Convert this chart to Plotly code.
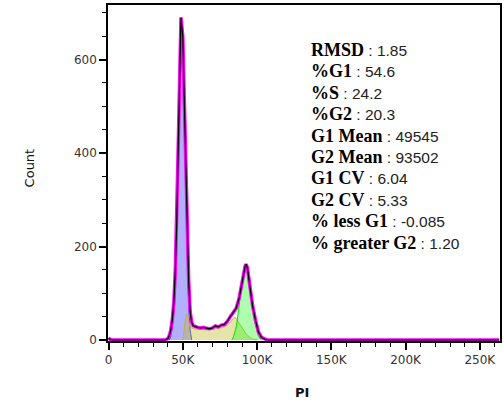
import plotly.graph_objects as go

# Histogram (PI channel, counts)
hist_x = [0, 1000, 2000, 38000, 40000, 41000, 42000, 43000, 44000, 45000, 46000, 47000, 48000,
          48800, 50000, 51000, 52000, 53000, 54000, 55000, 56000, 57000, 58000, 60000, 62000,
          64000, 66000, 68000, 70000, 72000, 74000, 76000, 78000, 80000, 82000, 84000, 86000,
          88000, 90000, 91000, 92000, 92600, 93500, 94500, 95500, 97000, 99000, 101000, 103000,
          105000, 107000, 263000]
hist_y = [4, 2, 0, 0, 3, 10, 22, 45, 80, 150, 255, 420, 570,
          690, 650, 525, 380, 235, 125, 60, 38, 31, 29, 27, 26,
          27, 25, 24, 26, 30, 28, 32, 33, 40, 50, 58, 68,
          90, 125, 147, 158, 162, 155, 132, 108, 74, 42, 17, 6,
          2, 0, 0]

# Model components
g1_x = [41000, 42000, 43000, 44000, 45000, 46000, 47000, 48000, 48800, 50000, 51000, 52000,
        53000, 54000, 55000, 56000]
g1_y = [0, 10, 32, 65, 130, 235, 400, 550, 680, 635, 500, 340, 190, 85, 22, 0]

s_x = [50000, 51000, 52000, 53000, 54000, 55000, 56000, 58000, 60000, 65000, 70000, 75000,
       80000, 83000, 85000, 86000, 88000, 90000, 92000, 94000, 96000, 98000, 100000]
s_y = [0, 20, 48, 56, 42, 30, 26, 24, 23, 22, 23, 26, 32, 42, 48, 46, 36, 26, 16, 9, 4, 1, 0]

g2_x = [83000, 84000, 86000, 88000, 90000, 91000, 92000, 92600, 93500, 94500, 96000, 97000,
        99000, 101000, 103000]
g2_y = [0, 6, 28, 75, 125, 142, 150, 153, 146, 126, 95, 72, 35, 8, 0]

stat_labels = ["RMSD", "%G1", "%S", "%G2", "G1 Mean", "G2 Mean", "G1 CV", "G2 CV",
               "% less G1", "% greater G2"]
stat_values = ["1.85", "54.6", "24.2", "20.3", "49545", "93502", "6.04", "5.33",
               "-0.085", "1.20"]

x_tickvals = [0, 50000, 100000, 150000, 200000, 250000]
x_ticktext = ["0", "50K", "100K", "150K", "200K", "250K"]

fig = go.Figure()
fig.add_trace(go.Scatter(x=g1_x, y=g1_y, mode="lines", fill="tozeroy",
                         fillcolor="rgba(0,0,255,0.31)",
                         line=dict(color="rgb(50,50,230)", width=1, shape="spline", smoothing=0.5)))
fig.add_trace(go.Scatter(x=s_x, y=s_y, mode="lines", fill="tozeroy",
                         fillcolor="rgba(190,190,40,0.40)",
                         line=dict(color="rgb(200,170,70)", width=1, shape="spline", smoothing=0.5)))
fig.add_trace(go.Scatter(x=g2_x, y=g2_y, mode="lines", fill="tozeroy",
                         fillcolor="rgba(0,255,0,0.32)",
                         line=dict(color="rgb(0,215,0)", width=1, shape="spline", smoothing=0.5)))
fig.add_trace(go.Scatter(x=hist_x, y=hist_y, mode="lines",
                         line=dict(color="rgb(255,0,255)", width=3.5)))
fig.add_trace(go.Scatter(x=hist_x, y=hist_y, mode="lines",
                         line=dict(color="black", width=1.2)))

L, R, T, B = 108, 2, 5, 60
W, H = 504, 401
pw, ph = W - L - R, H - T - B

def px(xp):
    return (xp - L) / pw

def py(yp):
    return (T + ph - yp) / ph

ann = []
for i, (lab, val) in enumerate(zip(stat_labels, stat_values)):
    ann.append(dict(
        xref="paper", yref="paper", x=px(310), y=py(50 + i * 21.4),
        xanchor="left", yanchor="middle", showarrow=False,
        text=("<span style='font-family:Liberation Serif;font-size:18px;font-weight:bold'>"
              + lab + "</span>"
              + "<span style='font-family:Liberation Sans;font-size:15.5px;color:#222'> : "
              + val + "</span>"),
        font=dict(color="black", size=15)))
ann.append(dict(xref="paper", yref="paper", x=px(29), y=py(168), text="Count",
                textangle=-90, showarrow=False, xanchor="center", yanchor="middle",
                font=dict(family="DejaVu Sans", size=13, color="#111")))
ann.append(dict(xref="paper", yref="paper", x=px(303), y=py(393), text="<b>PI</b>",
                showarrow=False, xanchor="center", yanchor="middle",
                font=dict(family="DejaVu Sans", size=13, color="#111")))

fig.update_layout(
    width=W, height=H, margin=dict(l=L, r=R, t=T, b=B),
    paper_bgcolor="white", plot_bgcolor="white", showlegend=False,
    annotations=ann,
    xaxis=dict(range=[-335, 263600], tickmode="array", tickvals=x_tickvals, ticktext=x_ticktext,
               showgrid=False, zeroline=False, showline=True, mirror=True,
               linecolor="black", linewidth=1.5, ticks="outside", ticklen=7, tickwidth=2,
               tickcolor="black",
               minor=dict(dtick=10000, tick0=0, ticks="outside", ticklen=4, tickwidth=1,
                          tickcolor="black", showgrid=False),
               tickfont=dict(family="DejaVu Sans", size=12, color="#333")),
    yaxis=dict(range=[-2.1, 716.6], tickmode="linear", tick0=0, dtick=200,
               showgrid=False, zeroline=False, showline=True, mirror=True,
               linecolor="black", linewidth=1.5, ticks="outside", ticklen=7, tickwidth=2,
               tickcolor="black",
               minor=dict(dtick=50, tick0=0, ticks="outside", ticklen=4, tickwidth=1,
                          tickcolor="black", showgrid=False),
               tickfont=dict(family="DejaVu Sans", size=12, color="#333")),
)

fig.write_html("out.html", config={"displayModeBar": False},
               post_script="document.body.style.margin='0';document.body.style.padding='0';")
